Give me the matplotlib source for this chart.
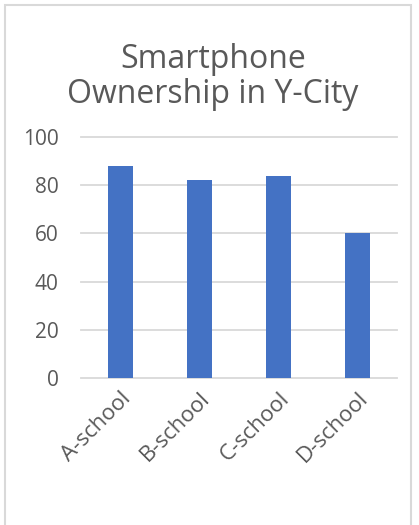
import matplotlib
matplotlib.use("Agg")
import matplotlib.pyplot as plt
from matplotlib.patches import Rectangle

categories = ["A-school", "B-school", "C-school", "D-school"]
values = [88, 82, 84, 60]
yticks = [0, 20, 40, 60, 80, 100]
title_lines = ["Smartphone", "Ownership in Y-City"]

plt.rcParams['font.family'] = ['Open Sans', 'DejaVu Sans']

W, H = 419, 525
fig = plt.figure(figsize=(W / 100, H / 100), dpi=100)
fig.patch.set_facecolor("white")

# chart border (light gray), bottom extends beyond the image
border = Rectangle((4.5 / W, -0.1), (411 - 4.5) / W, (H - 5) / H + 0.1,
                   transform=fig.transFigure, fill=False,
                   edgecolor="#D9D9D9", linewidth=1.5)
fig.patches.append(border)

ax = fig.add_axes([81 / W, (H - 378) / H, (397 - 81) / W, (378 - 137) / H])
x = list(range(len(categories)))
ax.bar(x, values, width=0.31, color="#4472C4", zorder=3)
ax.set_xlim(-0.5, len(categories) - 0.5)
ax.set_ylim(0, 100)
ax.set_yticks(yticks)
ax.set_yticklabels([str(t) for t in yticks])
ax.set_xticks(x)
ax.set_xticklabels(categories, rotation=45, ha="right", va="top",
                   rotation_mode="anchor")
for s in ax.spines.values():
    s.set_visible(False)
ax.grid(axis="y", color="#D9D9D9", linewidth=1.3, zorder=0)
for gl in ax.get_ygridlines():
    gl.set_clip_on(False)
ax.tick_params(axis="y", length=0, pad=16, labelsize=15, labelcolor="#595959")
ax.tick_params(axis="x", length=0, pad=7, labelsize=16, labelcolor="#595959")

for line, base in zip(title_lines, [68, 103]):
    fig.text(213 / W, 1 - base / H, line, ha="center", va="baseline",
             fontsize=23, color="#595959")

fig.savefig("out.png", dpi=100)
